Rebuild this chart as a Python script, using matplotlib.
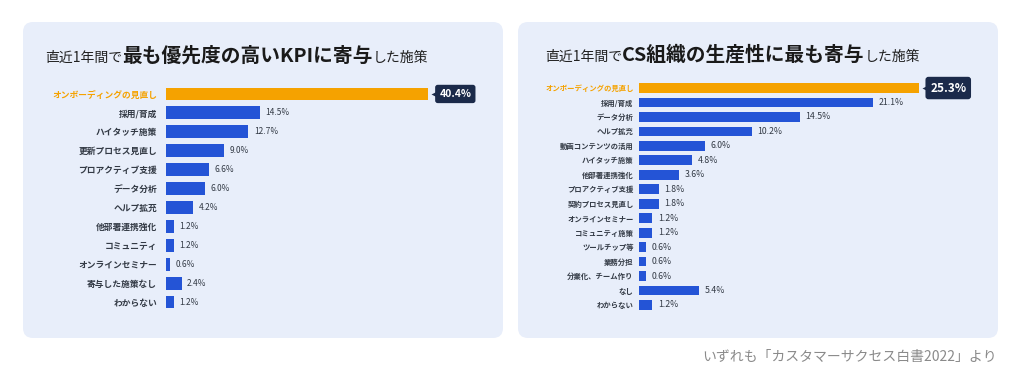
import numpy as np
import matplotlib
matplotlib.use("Agg")
import matplotlib.pyplot as plt
from matplotlib.patches import FancyBboxPatch
from matplotlib.transforms import IdentityTransform, offset_copy
from matplotlib.offsetbox import TextArea, HPacker, AnchoredOffsetbox

plt.rcParams['font.family'] = ['Noto Sans CJK JP', 'DejaVu Sans']

left_labels = ["オンボーディングの見直し", "採用/育成", "ハイタッチ施策", "更新プロセス見直し",
               "プロアクティブ支援", "データ分析", "ヘルプ拡充", "他部署連携強化",
               "コミュニティ", "オンラインセミナー", "寄与した施策なし", "わからない"]
left_values = [40.4, 14.5, 12.7, 9.0, 6.6, 6.0, 4.2, 1.2, 1.2, 0.6, 2.4, 1.2]

right_labels = ["オンボーディングの見直し", "採用/育成", "データ分析", "ヘルプ拡充",
                "動画コンテンツの活用", "ハイタッチ施策", "他部署連携強化", "プロアクティブ支援",
                "契約プロセス見直し", "オンラインセミナー", "コミュニティ施策", "ツールチップ等",
                "業務分担", "分業化、チーム作り", "なし", "わからない"]
right_values = [25.3, 21.1, 14.5, 10.2, 6.0, 4.8, 3.6, 1.8, 1.8, 1.2, 1.2, 0.6, 0.6, 0.6, 5.4, 1.2]

left_title = ["直近1年間で", "最も優先度の高いKPIに寄与", "した施策"]
right_title = ["直近1年間で", "CS組織の生産性に最も寄与", "した施策"]
source = "いずれも「カスタマーサクセス白書2022」より"

W, H = 1024, 389
BLUE = "#2454d6"
ORANGE = "#f5a200"
NAVY = "#1b2a4a"
PANEL = "#e8eefa"
TXT = "#333a45"

fig = plt.figure(figsize=(W / 100, H / 100), dpi=100)
fig.patch.set_facecolor("white")


def px(x0, y0, x1, y1):
    # pixel box (top-down) -> figure fractions
    return [x0 / W, 1 - y1 / H, (x1 - x0) / W, (y1 - y0) / H]


def panel(x0, y0, x1, y1):
    p = FancyBboxPatch((x0, H - y1), x1 - x0, y1 - y0,
                       boxstyle="round,pad=0,rounding_size=10",
                       transform=IdentityTransform(), fc=PANEL, ec="none", zorder=0)
    fig.add_artist(p)


def title(parts, x, y):
    boxes = [TextArea(parts[0], textprops=dict(fontsize=10, color="#222222")),
             TextArea(parts[1], textprops=dict(fontsize=14.2, color="#1a1a1a", weight="bold")),
             TextArea(parts[2], textprops=dict(fontsize=10, color="#222222"))]
    pack = HPacker(children=boxes, align="baseline", pad=0, sep=0)
    ab = AnchoredOffsetbox(loc="center left", child=pack, pad=0, borderpad=0, frameon=False,
                           bbox_to_anchor=(x / W, 1 - y / H), bbox_transform=fig.transFigure)
    fig.add_artist(ab)


def chart(rect, labels, values, xmax, lab_fs, val_fs, box_fs, tick_pad):
    ax = fig.add_axes(rect)
    ax.set_facecolor("none")
    y = np.arange(len(values))
    colors = [ORANGE] + [BLUE] * (len(values) - 1)
    ax.barh(y, values, height=0.68, color=colors)
    ax.set_xlim(0, xmax)
    ax.set_ylim(len(values) - 0.5, -0.5)
    ax.set_yticks(y)
    ax.set_yticklabels(labels, fontsize=lab_fs, color=TXT, weight="bold")
    ax.get_yticklabels()[0].set_color(ORANGE)
    ax.tick_params(axis="y", length=0, pad=tick_pad)
    ax.set_xticks([])
    for s in ax.spines.values():
        s.set_visible(False)
    for i, v in enumerate(values[1:], start=1):
        ax.annotate(f"{v:.1f}%", xy=(v, i), xytext=(4, 0), textcoords="offset points",
                    va="center", ha="left", fontsize=val_fs, color=TXT)
    v0 = values[0]
    ax.annotate(f"{v0:.1f}%", xy=(v0, 0), xytext=(8, 0), textcoords="offset points",
                va="center", ha="left", fontsize=box_fs, color="white", weight="bold",
                bbox=dict(boxstyle="round,pad=0.4,rounding_size=0.25", fc=NAVY, ec="none"))
    tr = offset_copy(ax.transData, fig=fig, x=5, y=0, units="points")
    ax.plot([v0], [0], marker="<", ms=6, color=NAVY, mec="none", transform=tr, clip_on=False)
    return ax


panel(23, 22, 503, 338)
panel(518, 22, 998, 338)

title(left_title, 45, 56)
title(right_title, 545, 55)

chart(px(166, 84.5, 466, 311.5), left_labels, left_values, 300 / 6.49, 6.3, 6.0, 7.5, 6.5)
chart(px(639, 80.8, 969, 312.2), right_labels, right_values, 330 / 11.07, 5.3, 6.3, 8.5, 3.8)

fig.text(997 / W, 1 - 357 / H, source, ha="right", va="center", fontsize=10, color="#8a8a8a")

fig.savefig("out.png", dpi=100)
